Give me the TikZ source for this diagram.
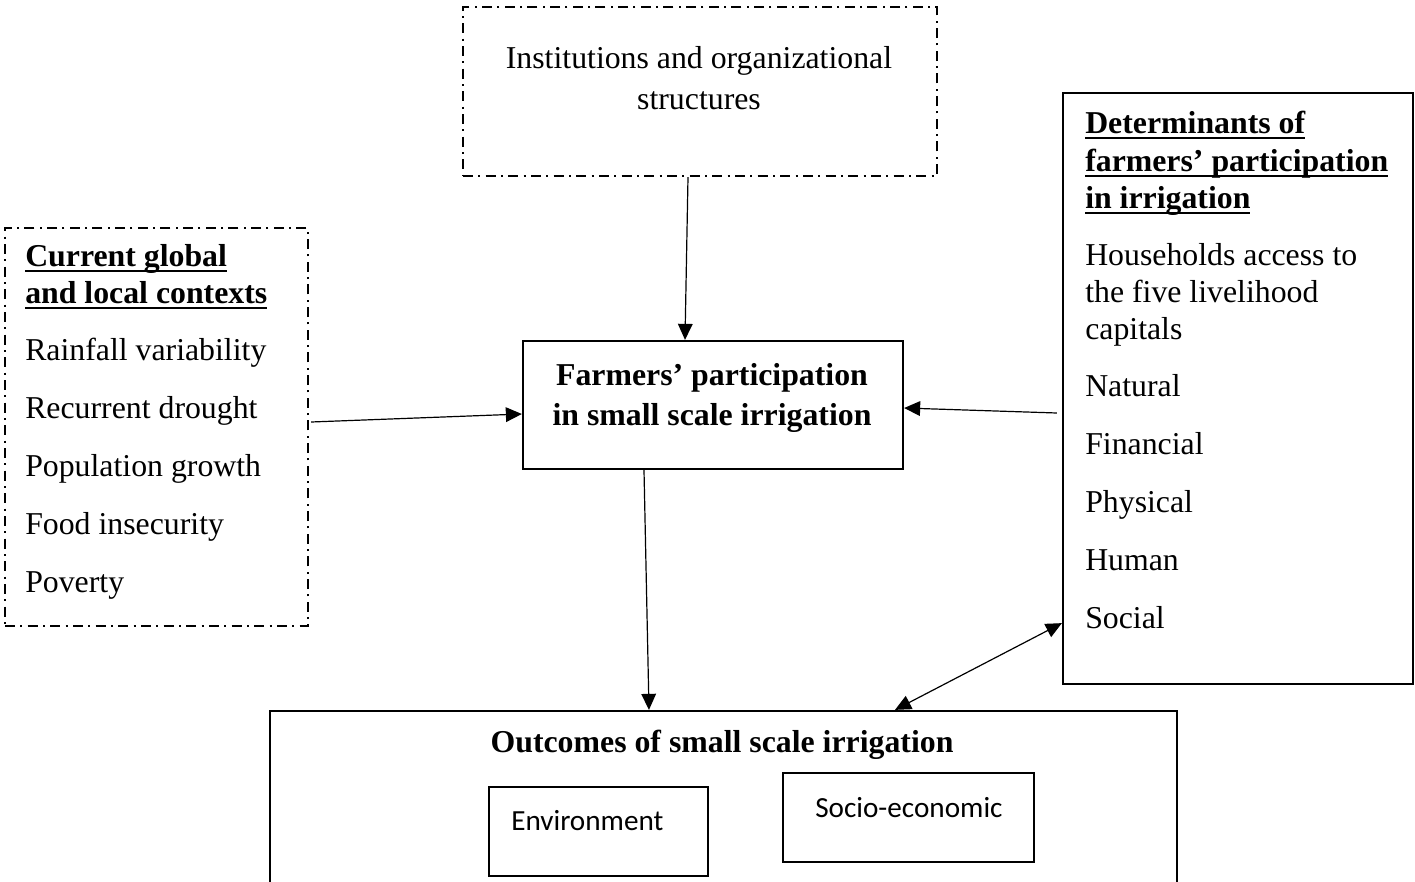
\documentclass[tikz,border=0pt]{standalone}
\usepackage{fontspec}
\setmainfont{Liberation Serif}
\newfontfamily\calib{Carlito}
\usetikzlibrary{arrows.meta,fit,calc}
\newcommand\ulh[1]{\setbox0\hbox{#1}\rlap{\rule[-4.6pt]{\wd0}{1.8pt}}\box0}
\begin{document}
\begin{tikzpicture}[x=0.75pt,y=-0.75pt,
  solidbox/.style={draw,line width=1.7pt,inner sep=0pt},
  dashbox/.style={draw,line width=1.7pt,inner sep=0pt,dash pattern=on 7.5pt off 4pt on 1.5pt off 4pt},
  txt/.style={font=\fontsize{23.85pt}{28pt}\selectfont,inner sep=0pt,anchor=base west},
  ctxt/.style={txt,anchor=base},
  btxt/.style={ctxt,font=\fontsize{23.85pt}{28pt}\selectfont\bfseries},
  stxt/.style={font=\fontsize{21.9pt}{26pt}\selectfont\calib,inner sep=0pt,anchor=base west},
  arr/.style={line width=0.9pt,-{Triangle[length=12pt,width=11pt]}},
  darr/.style={line width=0.9pt,{Triangle[length=12pt,width=11pt]}-{Triangle[length=12pt,width=11pt]}}]
\useasboundingbox (0,0) rectangle (1415,882);
\clip (0,0) rectangle (1415,882);
% boxes
\node[dashbox,fit={(463,7) (937,176)}] (inst) {};
\node[dashbox,fit={(5,228) (308,626)}] (ctx) {};
\node[solidbox,fit={(523,341) (903,469)}] (part) {};
\node[solidbox,fit={(1063,93) (1413,684)}] (det) {};
\node[solidbox,fit={(270,711) (1177,905)}] (out) {};
\node[solidbox,fit={(489,787) (708,876)}] (env) {};
\node[solidbox,fit={(783,773) (1034,862)}] (soc) {};
% texts
\node[ctxt] (inst1) at (699,68) {Institutions and organizational};
\node[ctxt] (inst2) at (699,109) {structures};
\node[btxt] (part1) at (712,385) {Farmers’ participation};
\node[btxt] (part2) at (712,425) {in small scale irrigation};
\node[btxt] (out1) at (722,752) {Outcomes of small scale irrigation};
\node[stxt] (env1) at (511,830) {Environment};
\node[stxt] (soc1) at (815,817) {Socio-economic};
\node[txt,font=\fontsize{23.85pt}{28pt}\selectfont\bfseries] (c1) at (25,266) {\ulh{Current global}};
\node[txt,font=\fontsize{23.85pt}{28pt}\selectfont\bfseries] (c2) at (25,303) {\ulh{and local contexts}};
\foreach \t/\y [count=\i] in {Rainfall variability/360,Recurrent drought/418,Population growth/476,Food insecurity/534,Poverty/592}
  \node[txt] (ci\i) at (25,\y) {\t};
\node[txt,font=\fontsize{23.85pt}{28pt}\selectfont\bfseries] (d1) at (1085,133) {\ulh{Determinants of}};
\node[txt,font=\fontsize{23.85pt}{28pt}\selectfont\bfseries] (d2) at (1085,171) {\ulh{farmers’ participation}};
\node[txt,font=\fontsize{23.85pt}{28pt}\selectfont\bfseries] (d3) at (1085,208) {\ulh{in irrigation}};
\node[txt] (h1) at (1085,265) {Households access to};
\node[txt] (h2) at (1085,302) {the five livelihood};
\node[txt] (h3) at (1085,339) {capitals};
\foreach \t/\y [count=\i] in {Natural/396,Financial/454,Physical/512,Human/570,Social/628}
  \node[txt] (di\i) at (1085,\y) {\t};
% connectors
\draw[arr] ($(inst.south)+(-12,0)$) -- ($(part.north)+(-28,0)$);
\draw[arr] ($(ctx.east)+(2,-5)$) -- ($(part.west)+(0,9)$);
\draw[arr] ($(det.west)+(-5,24.5)$) -- ($(part.east)+(0,3)$);
\draw[arr] ($(part.south)+(-69,0)$) -- ($(out.north)+(-74.5,0)$);
\draw[darr] ($(det.south west)+(0,-62)$) -- ($(out.north)+(171.5,0)$);
\end{tikzpicture}
\end{document}
